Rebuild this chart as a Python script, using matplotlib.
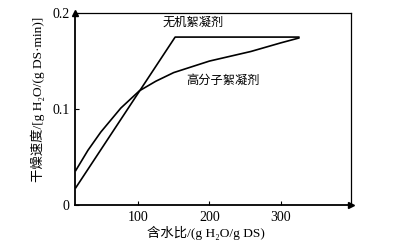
import matplotlib.pyplot as plt

plt.rcParams['font.family'] = ['Liberation Serif', 'DejaVu Serif', 'Noto Sans CJK SC']

# inorganic flocculant: linear rise then constant
inorg_x = [13, 152, 325]
inorg_y = [0.018, 0.175, 0.175]

# polymer flocculant: smooth curve
poly_x = [13, 30, 48, 76, 102, 125, 150, 200, 258, 300, 325]
poly_y = [0.036, 0.057, 0.076, 0.101, 0.119, 0.129, 0.138, 0.150, 0.160, 0.169, 0.174]

xticks = [100, 200, 300]
yticks = [0, 0.1, 0.2]
yticklabels = ['0', '0.1', '0.2']

fig = plt.figure(figsize=(3.93, 2.47), dpi=100)
ax = fig.add_axes([0.191, 0.170, 0.702, 0.777])

ax.plot(inorg_x, inorg_y, 'k-', lw=1.2)
ax.plot(poly_x, poly_y, 'k-', lw=1.2)

ax.text(135, 0.190, '无机絮凝剂', fontsize=8.8, va='center', family=['Noto Sans CJK SC'])
ax.text(167, 0.130, '高分子絮凝剂', fontsize=8.8, va='center', family=['Noto Sans CJK SC'])

ax.set_xlim(12, 398)
ax.set_ylim(0, 0.2)
ax.set_xticks(xticks)
ax.set_yticks(yticks)
ax.set_yticklabels(yticklabels)
ax.tick_params(direction='in', length=3, labelsize=10, width=0.8, pad=4)

for s in ax.spines.values():
    s.set_linewidth(0.9)
ax.spines['left'].set_linewidth(1.3)
ax.spines['bottom'].set_linewidth(1.3)

# axis arrows
ax.plot(1, 0, '>k', ms=4, transform=ax.transAxes, clip_on=False)
ax.plot(0, 1, '^k', ms=4, transform=ax.transAxes, clip_on=False)

ax.set_xlabel('含水比/(g H₂O/g DS)', fontsize=9.6)
ax.set_ylabel('干燥速度/[g H₂O/(g DS·min)]', fontsize=9.6)
ax.xaxis.set_label_coords(0.475, -0.11)
ax.yaxis.set_label_coords(-0.11, 0.55)

fig.savefig('out.png', dpi=100)
